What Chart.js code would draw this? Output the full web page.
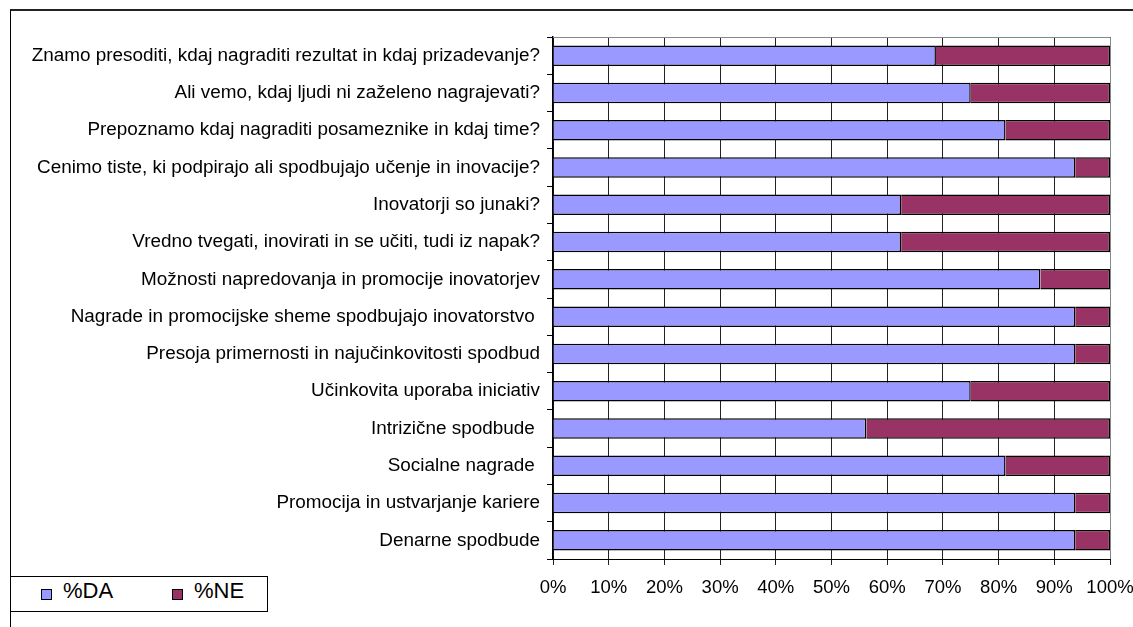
<!DOCTYPE html>
<html>
<head>
<meta charset="utf-8">
<script src="https://cdn.jsdelivr.net/npm/chart.js@4"></script>
<style>
    html, body { margin: 0; padding: 0; background: #fff; overflow: hidden; }
    #wrap { position: relative; width: 1133px; height: 627px; }
    #okvir { position: absolute; left: 10px; top: 9px; width: 1200px; height: 700px;
             border-top: 2px solid #222; border-left: 1px solid #000; }
    #graf { position: absolute; left: 0; top: 0; }
    #legenda { position: absolute; left: 10px; top: 576px; width: 256px; height: 34px;
               border: 1px solid #000; background: #fff;
               font-family: 'Liberation Sans', Arial, sans-serif; font-size: 22px; color: #000; }
    #legenda .item { position: absolute; top: 1px; line-height: 26px; }
    #legenda .box { position: absolute; top: 11px; width: 9px; height: 9px; border: 1px solid #000; }
    #legenda .txt { position: absolute; left: 22px; white-space: nowrap; }
</style>
</head>
<body>
<div id="wrap">
    <div id="okvir"></div>
    <canvas id="graf" width="1133" height="627"></canvas>
    <div id="legenda"></div>
</div>
<script>
    // --- PODATKI ---
    const vprasanja = [
        'Znamo presoditi, kdaj nagraditi rezultat in kdaj prizadevanje?',
        'Ali vemo, kdaj ljudi ni zaželeno nagrajevati?',
        'Prepoznamo kdaj nagraditi posameznike in kdaj time?',
        'Cenimo tiste, ki podpirajo ali spodbujajo učenje in inovacije?',
        'Inovatorji so junaki?',
        'Vredno tvegati, inovirati in se učiti, tudi iz napak?',
        'Možnosti napredovanja in promocije inovatorjev',
        'Nagrade in promocijske sheme spodbujajo inovatorstvo ',
        'Presoja primernosti in najučinkovitosti spodbud',
        'Učinkovita uporaba iniciativ',
        'Intrizične spodbude ',
        'Socialne nagrade ',
        'Promocija in ustvarjanje kariere',
        'Denarne spodbude'
    ];
    const odstotekDa = [68.75, 75, 81.25, 93.75, 62.5, 62.5, 87.5, 93.75, 93.75, 75, 56.25, 81.25, 93.75, 93.75];
    const odstotekNe = [31.25, 25, 18.75, 6.25, 37.5, 37.5, 12.5, 6.25, 6.25, 25, 43.75, 18.75, 6.25, 6.25];
    const oznakeOsi = ['0%', '10%', '20%', '30%', '40%', '50%', '60%', '70%', '80%', '90%', '100%'];

    const pisava = { family: "'Liberation Sans', Arial, sans-serif", size: 18.5 };
    const pisavaVprasanj = { family: "'Liberation Sans', Arial, sans-serif", size: 18.9 };

    // zgornji in desni rob risalne površine (siv)
    const robPovrsine = {
        id: 'robPovrsine',
        beforeDatasetsDraw(chart) {
            const { ctx, chartArea: a } = chart;
            ctx.save();
            ctx.strokeStyle = '#888';
            ctx.lineWidth = 1;
            ctx.beginPath();
            ctx.moveTo(a.left, a.top + 0.5);
            ctx.lineTo(a.right + 0.5, a.top + 0.5);
            ctx.lineTo(a.right + 0.5, a.bottom);
            ctx.stroke();
            ctx.restore();
        }
    };

    const graf = new Chart(document.getElementById('graf'), {
        type: 'bar',
        data: {
            labels: vprasanja,
            datasets: [
                { label: '%DA', data: odstotekDa, backgroundColor: '#9999FF', borderColor: '#000', borderWidth: 1.5,
                  barPercentage: 0.55, categoryPercentage: 1 },
                { label: '%NE', data: odstotekNe, backgroundColor: '#993366', borderColor: '#000', borderWidth: 1.5,
                  barPercentage: 0.55, categoryPercentage: 1 }
            ]
        },
        options: {
            indexAxis: 'y',
            responsive: false,
            animation: false,
            layout: { padding: { top: 37, right: 23, left: 0, bottom: 0 } },
            plugins: { legend: { display: false }, tooltip: { enabled: false } },
            scales: {
                x: {
                    stacked: true, min: 0, max: 100,
                    afterFit: s => { s.height = 68; s.paddingLeft = 0; s.paddingRight = 0; },
                    ticks: { stepSize: 10, color: '#000', font: pisava, padding: 12, maxRotation: 0,
                             callback: (v, i) => oznakeOsi[i] },
                    grid: { color: '#222', lineWidth: 1, tickLength: 6 },
                    border: { color: '#000', width: 1 }
                },
                y: {
                    stacked: true,
                    afterFit: s => { s.width = 553; },
                    ticks: { color: '#000', font: pisavaVprasanj, padding: 7, autoSkip: false },
                    grid: { drawOnChartArea: false, color: '#000', tickLength: 6 },
                    border: { color: '#000', width: 1.5 }
                }
            }
        },
        plugins: [robPovrsine]
    });

    // legenda iz podatkov grafa
    function narisiLegendo(chart) {
        const el = document.getElementById('legenda');
        const zamiki = [30, 161];
        el.innerHTML = '';
        chart.data.datasets.forEach((ds, i) => {
            const item = document.createElement('div');
            item.className = 'item';
            item.style.left = zamiki[i] + 'px';
            item.innerHTML = `<span class="box" style="background:${ds.backgroundColor}"></span><span class="txt">${ds.label}</span>`;
            el.appendChild(item);
        });
    }
    narisiLegendo(graf);
</script>
</body>
</html>
